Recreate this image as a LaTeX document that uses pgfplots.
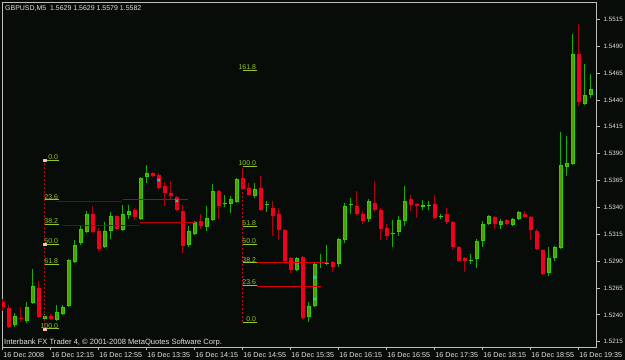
\documentclass[border=0pt]{standalone}
\usepackage{pgfplots}
\pgfplotsset{compat=1.18}
\usepackage{pgfplotstable}
\usepackage{fontspec}
\setmainfont{Liberation Sans}
\definecolor{bg}{RGB}{8,12,8}
\definecolor{frame}{RGB}{190,190,190}
\definecolor{txt}{RGB}{225,225,225}
\definecolor{bullw}{RGB}{20,175,0}
\definecolor{bullo}{RGB}{40,215,0}
\definecolor{bulli}{RGB}{90,150,10}
\definecolor{bearw}{RGB}{175,0,20}
\definecolor{bearb}{RGB}{240,0,30}
\definecolor{fib}{RGB}{150,200,40}
\definecolor{fibv}{RGB}{200,0,20}
\definecolor{lineA}{RGB}{130,0,0}
\definecolor{lineB}{RGB}{190,0,0}
\definecolor{lineC}{RGB}{220,0,0}
\definecolor{xcyan}{RGB}{0,220,230}

\pgfplotstableread{
i o h l c
2 1.5231 1.5242 1.5229 1.5239
4 1.5234 1.5252 1.5232 1.5247
5 1.5251 1.5283 1.5250 1.5267
7 1.5236 1.5241 1.5235 1.5239
9 1.5235 1.5249 1.5234 1.5243
10 1.5241 1.5249 1.5240 1.5247
11 1.5248 1.5292 1.5247 1.5291
12 1.5289 1.5310 1.5288 1.5305
13 1.5307 1.5323 1.5305 1.5320
14 1.5317 1.5337 1.5316 1.5334
17 1.5303 1.5326 1.5302 1.5318
18 1.5318 1.5336 1.5311 1.5332
20 1.5319 1.5342 1.5318 1.5334
21 1.5333 1.5342 1.5329 1.5337
23 1.5329 1.5368 1.5328 1.5367
24 1.5368 1.5379 1.5363 1.5372
31 1.5305 1.5323 1.5303 1.5318
32 1.5315 1.5327 1.5314 1.5326
34 1.5322 1.5341 1.5318 1.5330
35 1.5328 1.5362 1.5327 1.5355
37 1.5343 1.5352 1.5340 1.5344
38 1.5343 1.5351 1.5335 1.5348
39 1.5345 1.5367 1.5344 1.5366
42 1.5351 1.5363 1.5349 1.5357
44 1.5342 1.5346 1.5336 1.5343
49 1.5282 1.5294 1.5281 1.5293
51 1.5238 1.5252 1.5233 1.5248
52 1.5248 1.5289 1.5247 1.5287
53 1.5288 1.5297 1.5284 1.5289
54 1.5287 1.5305 1.5286 1.5288
56 1.5287 1.5312 1.5285 1.5311
57 1.5310 1.5344 1.5307 1.5341
58 1.5342 1.5349 1.5334 1.5343
61 1.5329 1.5348 1.5326 1.5346
65 1.5315 1.5328 1.5303 1.5316
66 1.5317 1.5332 1.5313 1.5328
67 1.5327 1.5360 1.5323 1.5346
70 1.5340 1.5347 1.5338 1.5342
71 1.5341 1.5346 1.5338 1.5342
73 1.5331 1.5334 1.5329 1.5332
78 1.5290 1.5297 1.5287 1.5291
79 1.5292 1.5311 1.5284 1.5309
80 1.5309 1.5327 1.5303 1.5325
81 1.5325 1.5333 1.5324 1.5332
83 1.5324 1.5329 1.5320 1.5327
85 1.5324 1.5330 1.5323 1.5329
86 1.5329 1.5337 1.5328 1.5336
91 1.5279 1.5303 1.5276 1.5293
92 1.5293 1.5304 1.5290 1.5303
93 1.5302 1.5410 1.5301 1.5379
94 1.5378 1.5406 1.5369 1.5381
95 1.5380 1.5501 1.5379 1.5483
97 1.5436 1.5473 1.5435 1.5445
98 1.5445 1.5464 1.5442 1.5450
}\bull

\pgfplotstableread{
i o h l c
0 1.5252 1.5255 1.5244 1.5247
1 1.5246 1.5249 1.5228 1.5229
3 1.5237 1.5247 1.5233 1.5236
6 1.5265 1.5272 1.5237 1.5238
8 1.5239 1.5241 1.5235 1.5236
15 1.5334 1.5341 1.5316 1.5317
16 1.5318 1.5321 1.5299 1.5301
19 1.5332 1.5333 1.5319 1.5320
22 1.5338 1.5339 1.5328 1.5331
25 1.5372 1.5373 1.5368 1.5369
26 1.5370 1.5372 1.5357 1.5358
27 1.5360 1.5364 1.5341 1.5353
28 1.5353 1.5365 1.5347 1.5351
29 1.5350 1.5351 1.5337 1.5338
30 1.5337 1.5342 1.5298 1.5304
33 1.5327 1.5334 1.5320 1.5323
36 1.5355 1.5356 1.5329 1.5341
40 1.5367 1.5377 1.5356 1.5357
41 1.5358 1.5363 1.5351 1.5352
43 1.5358 1.5369 1.5337 1.5338
45 1.5339 1.5346 1.5313 1.5332
46 1.5334 1.5339 1.5310 1.5319
47 1.5319 1.5320 1.5288 1.5290
48 1.5293 1.5294 1.5279 1.5282
50 1.5294 1.5295 1.5236 1.5237
55 1.5289 1.5290 1.5280 1.5285
59 1.5341 1.5355 1.5333 1.5334
60 1.5334 1.5337 1.5325 1.5327
62 1.5344 1.5365 1.5336 1.5338
63 1.5338 1.5339 1.5310 1.5320
64 1.5321 1.5325 1.5310 1.5313
68 1.5348 1.5352 1.5337 1.5342
69 1.5343 1.5344 1.5330 1.5341
72 1.5343 1.5352 1.5329 1.5330
74 1.5334 1.5339 1.5325 1.5326
75 1.5326 1.5327 1.5300 1.5303
76 1.5303 1.5304 1.5289 1.5290
77 1.5293 1.5294 1.5280 1.5290
82 1.5331 1.5332 1.5320 1.5325
84 1.5328 1.5329 1.5324 1.5325
87 1.5334 1.5337 1.5330 1.5331
88 1.5331 1.5332 1.5310 1.5319
89 1.5318 1.5320 1.5300 1.5301
90 1.5300 1.5301 1.5277 1.5278
96 1.5483 1.5511 1.5434 1.5438
}\bear

\begin{document}
\begin{tikzpicture}[font=\fontsize{6.5}{7}\selectfont]
\fill[bg] (-2bp,-13bp) rectangle (623bp,347bp);
\begin{axis}[
  at={(0,0)}, anchor=south west,
  scale only axis, width=594bp, height=345bp,
  xmin=-0.117, xmax=98.88, ymin=1.521013, ymax=1.553112,
  axis line style={frame, line width=0.8bp},
  axis background/.style={fill=bg},
  tick align=outside, major tick length=3.5bp,
  tick style={frame, line width=0.8bp},
  xtick={0,8,16,24,32,40,48,56,64,72,80,88,96},
  xticklabels={16 Dec 2008,16 Dec 12:15,16 Dec 12:55,16 Dec 13:35,16 Dec 14:15,16 Dec 14:55,16 Dec 15:35,16 Dec 16:15,16 Dec 16:55,16 Dec 17:35,16 Dec 18:15,16 Dec 18:55,16 Dec 19:35},
  xtick pos=left,
  ytick pos=right,
  yticklabel pos=right,
  ytick={1.5215,1.5240,1.5265,1.5290,1.5315,1.5340,1.5365,1.5390,1.5415,1.5440,1.5465,1.5490,1.5515},
  /pgf/number format/assume math mode=true,
  yticklabel={\pgfmathprintnumber[fixed,fixed zerofill,precision=4]{\tick}},
  yticklabel style={anchor=west, inner sep=0pt, xshift=4bp, text=txt, font=\fontsize{6.3}{7}\selectfont},
  xticklabel style={anchor=base west, inner sep=0pt, yshift=-7bp, xshift=0.5bp, text=txt, font=\fontsize{7.2}{8}\selectfont},
  clip=true,
]
% bull wicks
\addplot[draw=none, mark=none, forget plot, error bars/.cd, y dir=minus, y explicit, error mark=none, error bar style={draw=bullw, line width=1bp}]
  table[x=i, y=h, y error minus expr=\thisrow{h}-\thisrow{l}] {\bull};
% bear wicks
\addplot[draw=none, mark=none, forget plot, error bars/.cd, y dir=minus, y explicit, error mark=none, error bar style={draw=bearw, line width=1bp}]
  table[x=i, y=h, y error minus expr=\thisrow{h}-\thisrow{l}] {\bear};
% bull bodies
\addplot[draw=none, mark=none, forget plot, error bars/.cd, y dir=minus, y explicit, error mark=none, error bar style={draw=bullo, line width=4bp}]
  table[x=i, y=c, y error minus expr=\thisrow{c}-\thisrow{o}] {\bull};
\addplot[draw=none, mark=none, forget plot, restrict expr to domain={\thisrow{c}-\thisrow{o}}{0.00025:1}, error bars/.cd, y dir=minus, y explicit, error mark=none, error bar style={draw=bulli, line width=2bp, shorten >=1bp, shorten <=1bp}]
  table[x=i, y=c, y error minus expr=\thisrow{c}-\thisrow{o}] {\bull};
% bear bodies
\addplot[draw=none, mark=none, forget plot, error bars/.cd, y dir=minus, y explicit, error mark=none, error bar style={draw=bearb, line width=4bp}]
  table[x=i, y=o, y error minus expr=\thisrow{o}-\thisrow{c}] {\bear};

% red horizontal lines
\addplot[lineA, line width=0.9bp] coordinates {(9.0,1.53459) (19.83,1.53459)};
\addplot[lineB, line width=0.9bp] coordinates {(20.0,1.53475) (30.93,1.53475)};
\addplot[lineA, line width=0.9bp] coordinates {(10.0,1.53236) (22.88,1.53236)};
\addplot[lineB, line width=0.9bp] coordinates {(22.88,1.53261) (32.08,1.53261)};
\addplot[lineC, line width=0.9bp] coordinates {(42.3,1.52884) (54.27,1.52884)};
\addplot[lineC, line width=0.9bp] coordinates {(42.3,1.52668) (53.0,1.52668)};

% Fibonacci 1
\addplot[fibv, line width=0.9bp, dash pattern=on 2bp off 2bp] coordinates {(7,1.5227) (7,1.5384)};
\addplot[fib, line width=0.8bp] coordinates {(7,1.5384) (9.35,1.5384)};
\addplot[fib, line width=0.8bp] coordinates {(7,1.53470) (9.35,1.53470)};
\addplot[fib, line width=0.8bp] coordinates {(7,1.53240) (9.35,1.53240)};
\addplot[fib, line width=0.8bp] coordinates {(7,1.53055) (9.35,1.53055)};
\addplot[fib, line width=0.8bp] coordinates {(7,1.52870) (9.35,1.52870)};
\addplot[fib, line width=0.8bp] coordinates {(7,1.5227) (9.35,1.5227)};
\begin{scope}[every node/.style={fib, anchor=south east, inner sep=0.6bp, font=\fontsize{7}{8}\selectfont}]
\node at (axis cs:9.35,1.5384) {0.0};
\node at (axis cs:9.35,1.53470) {23.6};
\node at (axis cs:9.35,1.53240) {38.2};
\node at (axis cs:9.35,1.53055) {50.0};
\node at (axis cs:9.35,1.52870) {61.8};
\node at (axis cs:9.35,1.5227) {100.0};
\end{scope}
\addplot[only marks, mark=square*, mark size=1.1bp, mark options={fill=white!85!red, draw=white!70!red}] coordinates {(7,1.5384) (7,1.53055) (7,1.5227)};

% Fibonacci 2
\addplot[fibv, line width=0.9bp, dash pattern=on 2bp off 2bp] coordinates {(40,1.5233) (40,1.5378)};
\addplot[fib, line width=0.8bp] coordinates {(40,1.5233) (42.35,1.5233)};
\addplot[fib, line width=0.8bp] coordinates {(40,1.52672) (42.35,1.52672)};
\addplot[fib, line width=0.8bp] coordinates {(40,1.52884) (42.35,1.52884)};
\addplot[fib, line width=0.8bp] coordinates {(40,1.53055) (42.35,1.53055)};
\addplot[fib, line width=0.8bp] coordinates {(40,1.53226) (42.35,1.53226)};
\addplot[fib, line width=0.8bp] coordinates {(40,1.5378) (42.35,1.5378)};
\addplot[fib, line width=0.8bp] coordinates {(40.1,1.54676) (42.35,1.54676)};
\begin{scope}[every node/.style={fib, anchor=south east, inner sep=0.6bp, font=\fontsize{7}{8}\selectfont}]
\node at (axis cs:42.35,1.5233) {0.0};
\node at (axis cs:42.35,1.52672) {23.6};
\node at (axis cs:42.35,1.52884) {38.2};
\node at (axis cs:42.35,1.53055) {50.0};
\node at (axis cs:42.35,1.53226) {61.8};
\node at (axis cs:42.35,1.5378) {100.0};
\node at (axis cs:42.35,1.54676) {161.8};
\end{scope}

% cyan markers
\addplot[only marks, mark=x, mark size=1.8bp, xcyan, mark options={line width=0.9bp}] coordinates {(26,1.53654) (29,1.53462) (52,1.52749) (52,1.52547)};
\end{axis}
\node[anchor=base west, text=txt, inner sep=0pt, font=\fontsize{7}{8}\selectfont] at (3bp,336bp) {GBPUSD,M5\ \ 1.5629 1.5629 1.5579 1.5582};
\node[anchor=base west, text=txt, inner sep=0pt, font=\fontsize{7.6}{8}\selectfont] at (2bp,3bp) {Interbank FX Trader 4, © 2001-2008 MetaQuotes Software Corp.};
\pgfresetboundingbox
\useasboundingbox (-2bp,-13bp) rectangle (623bp,347bp);
\end{tikzpicture}
\end{document}
